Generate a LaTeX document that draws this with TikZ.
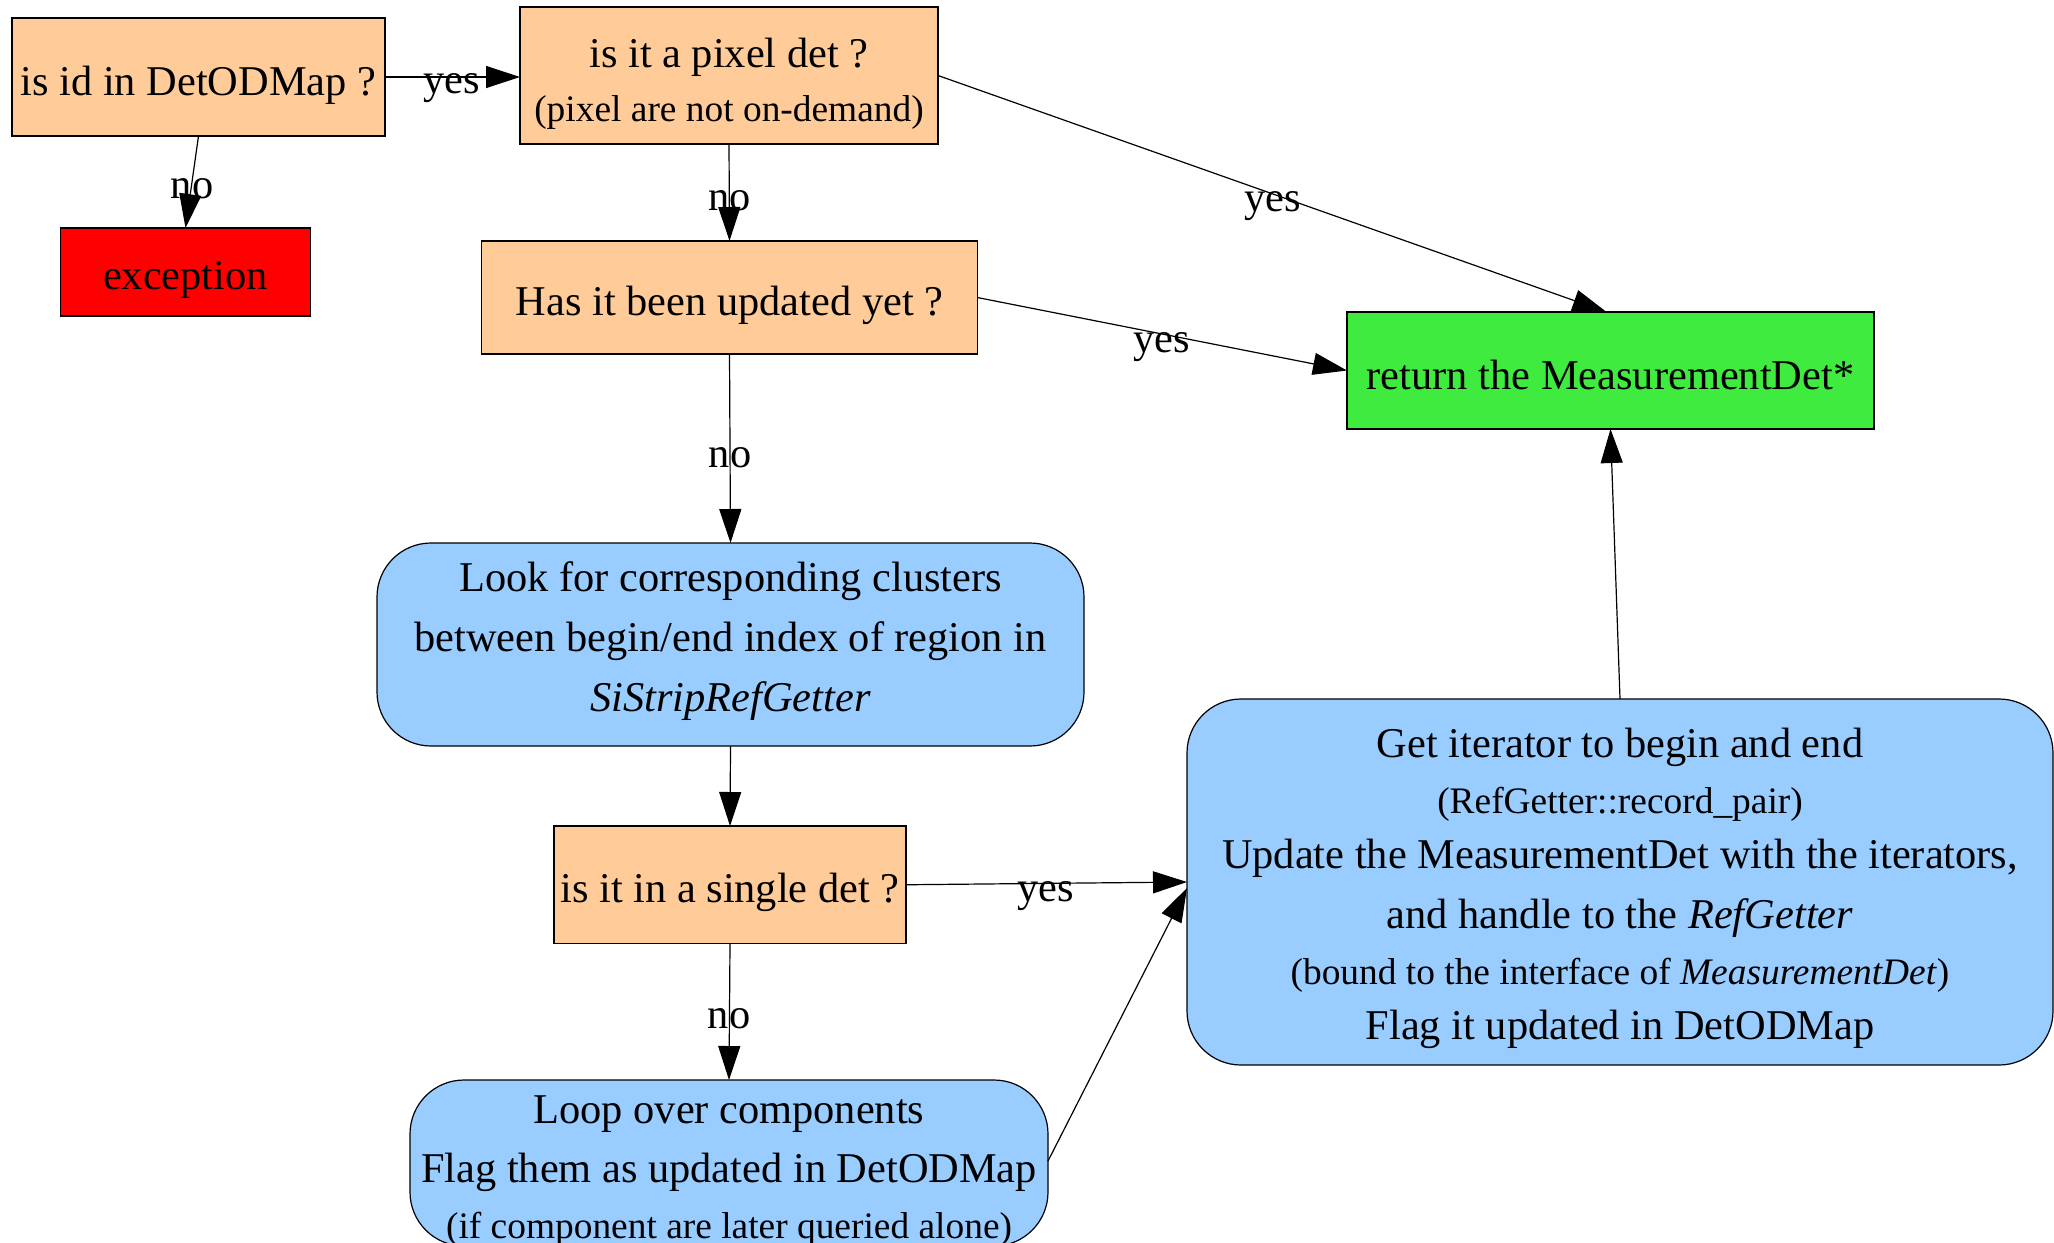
\documentclass[tikz,border=0pt]{standalone}
\usepackage{fontspec}
\setmainfont{Liberation Serif}
\usetikzlibrary{arrows.meta}

\definecolor{askfill}{RGB}{255,204,153}
\definecolor{failfill}{RGB}{255,0,0}
\definecolor{donefill}{RGB}{64,235,64}
\definecolor{actfill}{RGB}{153,204,255}

\newcommand{\bigtxt}{\fontsize{21.2}{30}\selectfont}
\newcommand{\smalltxt}{\fontsize{18.7}{26}\selectfont}

\tikzset{
  box/.style={draw=black, line width=0.6pt, inner sep=0pt, outer sep=0pt},
  askbox/.style={box, fill=askfill},
  failbox/.style={box, fill=failfill},
  donebox/.style={box, fill=donefill},
  actbox/.style={box, fill=actfill, rounded corners=27pt},
  % box text, centred on the box and lowered a little
  txt/.style={align=center, font=\bigtxt, inner sep=0pt, yshift=#1},
  txt/.default=-4pt,
  flow/.style={line width=0.6pt, -{Triangle[length=17pt,width=11pt]}},
  edgelabel/.style={font=\bigtxt, anchor=base, inner sep=0pt},
}

\begin{document}
\begin{tikzpicture}[x=0.5pt, y=-0.5pt]
  \useasboundingbox (0,0) rectangle (2054,1242);
  \fill[white] (0,0) rectangle (2054,1242);
  \clip (0,0) rectangle (2054,1242);

  % decisions
  \node[askbox, minimum width=186.5pt, minimum height=59pt,
        label={[txt]center:is id in DetODMap ?}] (inmap) at (198.5,77) {};
  \node[askbox, minimum width=209pt, minimum height=68.5pt,
        label={[txt=-4.25pt]center:{is it a pixel det ?\\[-3pt]{\smalltxt (pixel are not on-demand)}}}]
        (pixel) at (729,75.5) {};
  \node[failbox, minimum width=125pt, minimum height=44pt,
        label={[txt]center:exception}] (exc) at (185.5,272) {};
  \node[askbox, minimum width=247.75pt, minimum height=56.5pt,
        label={[txt]center:Has it been updated yet ?}] (updated) at (729.5,297.5) {};
  \node[donebox, minimum width=263.5pt, minimum height=58.5pt,
        label={[txt=-2pt]center:return the MeasurementDet*}] (ret) at (1610.5,370.5) {};

  % actions
  \node[actbox, minimum width=353.5pt, minimum height=101.5pt,
        label={[txt=1.5pt]center:{Look for corresponding clusters\\
          between begin/end index of region in\\
          \textit{SiStripRefGetter}}}] (look) at (730.5,644.5) {};
  \node[askbox, minimum width=176pt, minimum height=58.75pt,
        label={[txt]center:is it in a single det ?}] (single) at (730,884.75) {};
  \node[actbox, minimum width=319pt, minimum height=83pt,
        label={[txt=-4.2pt]center:{Loop over components\\[-0.5pt]
          Flag them as updated in DetODMap\\[-2pt]
          {\smalltxt (if component are later queried alone)}}}] (loop) at (729,1163) {};
  \node[actbox, minimum width=433pt, minimum height=183pt,
        label={[txt=-3.3pt]center:{Get iterator to begin and end\\[-2pt]
          {\smalltxt (RefGetter::record\_pair)}\\[-2.5pt]
          Update the MeasurementDet with the iterators,\\
          and handle to the \textit{RefGetter}\\[-2pt]
          {\smalltxt (bound to the interface of \textit{MeasurementDet})}\\[-2.5pt]
          Flag it updated in DetODMap}}] (getit) at (1620,882) {};

  % connectors
  \draw[flow] (inmap.east) -- (inmap.east -| pixel.west);
  \draw[flow] (inmap.south) -- (exc.north);
  \draw[flow] (pixel.south) -- (updated.north);
  \draw[flow] (pixel.east) -- ([xshift=-2pt]ret.north);
  \draw[flow] (updated.east) -- (ret.west);
  \draw[flow] (updated.south) -- (look.north);
  \draw[flow] (look.south) -- (single.north);
  \draw[flow] (single.east) -- (getit.west);
  \draw[flow] (single.south) -- (loop.north);
  \draw[flow] ([yshift=1pt]loop.east) -- ([yshift=-3pt]getit.west);
  \draw[flow] (getit.north) -- (ret.south);

  % connector labels
  \node[edgelabel] (l1) at (452,93)   {yes};
  \node[edgelabel] (l2) at (192,198)  {no};
  \node[edgelabel] (l3) at (729.5,210) {no};
  \node[edgelabel] (l4) at (1273,211) {yes};
  \node[edgelabel] (l5) at (1162,352) {yes};
  \node[edgelabel] (l6) at (730,467)  {no};
  \node[edgelabel] (l7) at (1046,901) {yes};
  \node[edgelabel] (l8) at (729,1028) {no};
\end{tikzpicture}
\end{document}
